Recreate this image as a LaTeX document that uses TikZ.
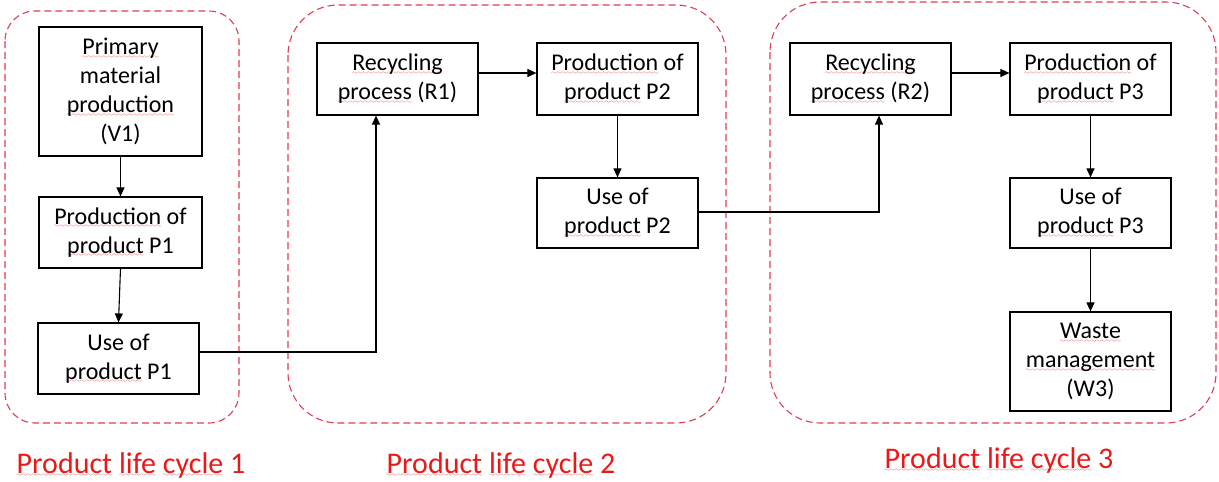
\documentclass[tikz,border=0pt]{standalone}
\usepackage{fontspec}
\setmainfont{Carlito}
\usetikzlibrary{arrows.meta}
\definecolor{groupred}{RGB}{222,62,82}
\definecolor{labelred}{RGB}{236,24,24}
\definecolor{wavered}{RGB}{232,40,40}
% red wavy underline for flagged words, built from a wave glyph
\font\wavefont=lasy6
\newcommand\spw[1]{\setbox0\hbox{#1}%
  \rlap{\lower3.5pt\hbox to\wd0{\color{wavered}\xleaders\hbox{\wavefont\char58}\hfill}}%
  \box0\relax}
\begin{document}
\begin{tikzpicture}[x=1pt,y=-1pt,
  group/.style={draw=groupred, line width=1.1pt, dash pattern=on 7pt off 4pt},
  pbox/.style={draw, line width=1.2pt, align=center, inner sep=0pt,
    minimum width=161pt, font=\fontsize{24}{29}\selectfont},
  arr/.style={line width=1.1pt, -{Triangle[length=9pt,width=8pt]}},
  cyclelabel/.style={text=labelred, font=\fontsize{30}{35}\selectfont, inner sep=0pt}]
\useasboundingbox (0,0) rectangle (1219,482);

% life cycle frames
\draw[group, rounded corners=30pt] (5,11) rectangle (239,423);
\draw[group, rounded corners=50pt] (288,5) rectangle (726,423);
\draw[group, rounded corners=50pt] (770,2) rectangle (1216,423);

% cycle 1
\node[pbox, minimum width=163pt, minimum height=129pt] (v1) at (120.5,91.5)
  {\spw{Primary}\\material\\\spw{production}\\(V1)};
\node[pbox, minimum width=163pt, minimum height=71pt] (p1) at (120.5,232.5)
  {\spw{Production} of\\\spw{product} P1};
\node[pbox, minimum height=71pt] (u1) at (118.5,358.5)
  {Use of\\\spw{product} P1};

% cycle 2
\node[pbox, minimum height=72pt] (r1) at (397.5,79)
  {\spw{Recycling}\\\spw{process} (R1)};
\node[pbox, minimum height=72pt] (p2) at (617.5,79)
  {\spw{Production} of\\\spw{product} P2};
\node[pbox, minimum height=70pt] (u2) at (617.5,213)
  {Use of\\\spw{product} P2};

% cycle 3
\node[pbox, minimum height=72pt] (r2) at (870.5,79)
  {\spw{Recycling}\\\spw{process} (R2)};
\node[pbox, minimum height=72pt] (p3) at (1090.5,79)
  {\spw{Production} of\\\spw{product} P3};
\node[pbox, minimum height=70pt] (u3) at (1090.5,213)
  {Use of\\\spw{product} P3};
\node[pbox, minimum height=99pt] (w3) at (1090.5,361.5)
  {\spw{Waste}\\\spw{management}\\(W3)};

% bend points of the links between cycles
\coordinate (k1) at (376,352);
\coordinate (k2) at (879,212);

% connectors
\draw[arr] (v1.south) -- (p1.north);
\draw[arr] (p1.south) -- (u1.north);
\draw[arr] (u1.east |- k1) -- (k1) -- (k1 |- r1.south);
\draw[arr] ([yshift=6pt]r1.east) -- ([yshift=6pt]p2.west);
\draw[arr] (p2.south) -- (u2.north);
\draw[arr] (u2.east |- k2) -- (k2) -- (k2 |- r2.south);
\draw[arr] ([yshift=6pt]r2.east) -- ([yshift=6pt]p3.west);
\draw[arr] (p3.south) -- (u3.north);
\draw[arr] (u3.south) -- (w3.north);

% cycle captions
\node[cyclelabel] (c1) at (131,465) {\spw{Product} \spw{life} \spw{cycle} 1};
\node[cyclelabel] (c2) at (501,465) {\spw{Product} \spw{life} \spw{cycle} 2};
\node[cyclelabel] (c3) at (999,460) {\spw{Product} \spw{life} \spw{cycle} 3};
\end{tikzpicture}
\end{document}
